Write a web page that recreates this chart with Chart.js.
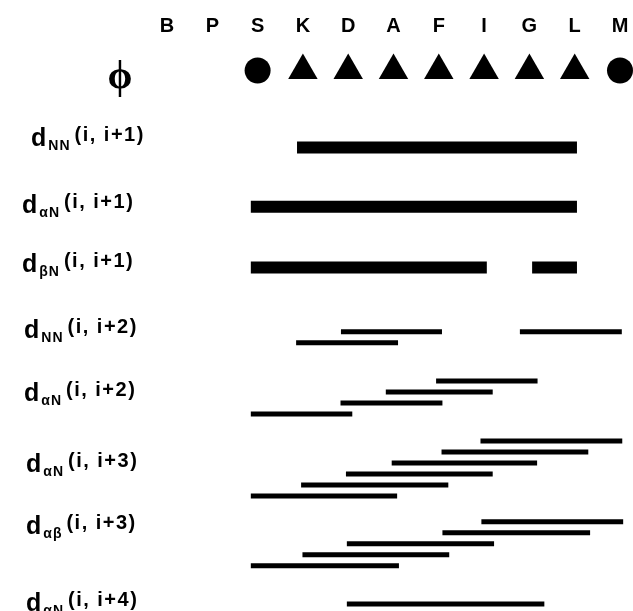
<!DOCTYPE html>
<html>
<head>
<meta charset="utf-8">
<script src="https://cdn.jsdelivr.net/npm/chart.js@4.4.0/dist/chart.umd.min.js"></script>
<style>
  html, body { margin: 0; padding: 0; background: #fff; }
  #wrap { width: 633px; height: 611px; position: relative; }
</style>
</head>
<body>
<div id="wrap"><canvas id="noeChart"></canvas></div>
<script>
// sequence along the top
const residues = ['B', 'P', 'S', 'K', 'D', 'A', 'F', 'I', 'G', 'L', 'M'];
// phi markers per residue (null = nothing drawn)
const phiMarks = [null, null, 'circle', 'triangle', 'triangle', 'triangle', 'triangle', 'triangle', 'triangle', 'triangle', 'circle'];

// row labels: d + subscript + superscript
const rowSubs = ['NN', 'αN', 'βN', 'NN', 'αN', 'αN', 'αβ', 'αN'];
const rowSups = ['(i, i+1)', '(i, i+1)', '(i, i+1)', '(i, i+2)', '(i, i+2)', '(i, i+3)', '(i, i+3)', '(i, i+4)'];

// NOE connectivities: [from, to, stack level], in residue units (B = 0 ... M = 10)
const dNN1 = [[2.87, 9.05, 0]];
const dAN1 = [[1.85, 9.05, 0]];
const dBN1 = [[1.85, 7.06, 0], [8.06, 9.05, 0]];
const dNN2 = [[3.84, 6.07, 0], [2.85, 5.10, 1], [7.79, 10.04, 0]];
const dAN2 = [[5.94, 8.18, 0], [4.83, 7.19, 1], [3.83, 6.08, 2], [1.85, 4.09, 3]];
const dAN3 = [[6.92, 10.05, 0], [6.06, 9.30, 1], [4.96, 8.17, 2], [3.95, 7.19, 3], [2.96, 6.21, 4], [1.85, 5.08, 5]];
const dAB3 = [[6.94, 10.07, 0], [6.08, 9.34, 1], [3.97, 7.22, 2], [2.99, 6.23, 3], [1.85, 5.12, 4]];
const dAN4 = [[3.97, 8.33, 0]];

const rows = [dNN1, dAN1, dBN1, dNN2, dAN2, dAN3, dAB3, dAN4];

// layout (y in line slots, 1 slot = one stacked thin line)
const phiSlot = 2.77;
const rowSlot = [9.77, 15.15, 20.68, 26.52, 31.0, 36.45, 43.79, 51.27];
const rowWidth = [12, 12, 12, 5, 5, 5, 5, 5];
const labelX = [31, 22, 22, 24, 24, 26, 26, 26];
const labelBase = [146, 213, 272, 338, 401, 472, 534, 611];

const datasets = [];
rows.forEach((segs, r) => {
    segs.forEach(s => {
        datasets.push({
            type: 'line',
            data: [{ x: s[0], y: rowSlot[r] + s[2] }, { x: s[1], y: rowSlot[r] + s[2] }],
            borderColor: '#000',
            borderWidth: rowWidth[r],
            borderCapStyle: 'butt',
            pointRadius: 0,
            fill: false
        });
    });
});

const phiPts = [];
const phiStyles = [];
const phiSizes = [];
phiMarks.forEach((m, i) => {
    if (!m) return;
    phiPts.push({ x: i, y: phiSlot });
    phiStyles.push(m);
    phiSizes.push(m === 'circle' ? 13 : 17);
});
datasets.push({
    type: 'scatter',
    data: phiPts,
    pointStyle: phiStyles,
    pointRadius: phiSizes,
    backgroundColor: '#000',
    borderColor: '#000',
    borderWidth: 0
});

// row labels with sub/superscripts
const rowLabels = {
    id: 'rowLabels',
    afterDraw(chart) {
        const ctx = chart.ctx;
        ctx.save();
        ctx.fillStyle = '#000';
        ctx.textBaseline = 'alphabetic';
        ctx.textAlign = 'center';
        // phi
        ctx.font = 'bold 40px "Liberation Serif"';
        ctx.fillText('ϕ', 120, 88);
        ctx.textAlign = 'left';
        rowSubs.forEach((sub, i) => {
            let x = labelX[i];
            const y = labelBase[i];
            ctx.letterSpacing = '0px';
            ctx.font = 'bold 25px "Liberation Sans"';
            ctx.fillText('d', x, y);
            x += ctx.measureText('d').width + 2;
            ctx.letterSpacing = '1px';
            ctx.font = 'bold 14px "Liberation Sans"';
            ctx.fillText(sub, x, y + 4);
            x += ctx.measureText(sub).width + 4;
            ctx.letterSpacing = '1.5px';
            ctx.font = 'bold 20px "Liberation Sans"';
            ctx.fillText(rowSups[i], x, y - 5);
        });
        ctx.restore();
    }
};

new Chart(document.getElementById('noeChart'), {
    data: { datasets: datasets },
    options: {
        responsive: true,
        maintainAspectRatio: false,
        animation: false,
        layout: { padding: 0, autoPadding: false },
        plugins: {
            legend: { display: false },
            tooltip: { enabled: false }
        },
        scales: {
            x: {
                type: 'linear',
                position: 'top',
                min: -3.687,
                max: 10.287,
                afterBuildTicks: function(axis) {
                    axis.ticks = residues.map((r, i) => ({ value: i }));
                },
                afterFit: function(axis) {
                    axis.height = 40;
                    axis.paddingLeft = 0;
                    axis.paddingRight = 0;
                },
                ticks: {
                    callback: function(value) {
                        return residues[value];
                    },
                    font: { family: 'Liberation Sans', weight: 'bold', size: 20 },
                    color: '#000',
                    maxRotation: 0,
                    autoSkip: false,
                    padding: 2
                },
                grid: { display: false, drawTicks: false },
                border: { display: false }
            },
            y: {
                type: 'linear',
                reverse: true,
                min: 0,
                max: 51.909,
                display: false
            }
        }
    },
    plugins: [rowLabels]
});
</script>
</body>
</html>
